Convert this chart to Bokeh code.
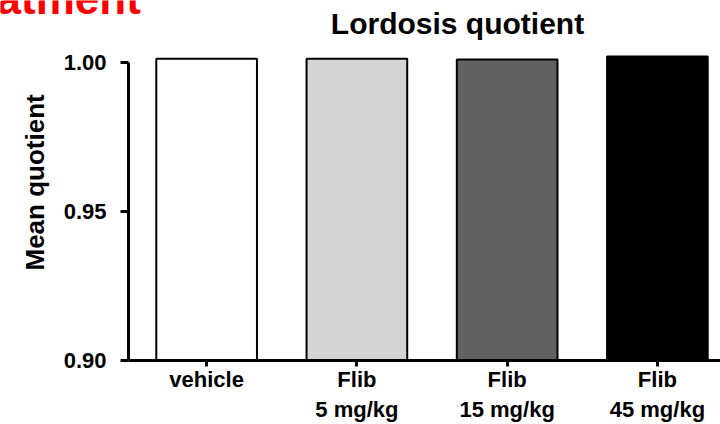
from bokeh.plotting import figure
from bokeh.layouts import column
from bokeh.models import Range1d, FixedTicker, Label, Title, ColumnDataSource
from bokeh.embed import file_html
from bokeh.resources import INLINE

# ---- data ----
categories = ["vehicle", "Flib\n5 mg/kg", "Flib\n15 mg/kg", "Flib\n45 mg/kg"]
values = [1.0013, 1.0013, 1.0010, 1.0020]
bar_colors = ["#FFFFFF", "#D4D4D4", "#616161", "#000000"]
y_ticks = [0.90, 0.95, 1.00]
y_tick_labels = ["0.90", "0.95", "1.00"]
title_text = "Lordosis quotient"
y_label = "Mean quotient"
slide_heading = "Treatment"

FONT = "Liberation Sans"
W = 720
TOP_H = 45
MAIN_H = 379

# ---- header strip (slide heading fragment + chart title) ----
head = figure(width=W, height=TOP_H, output_backend="svg", toolbar_location=None,
              x_axis_location=None, y_axis_location=None,
              x_range=Range1d(0, 1), y_range=Range1d(0, 1),
              min_border=0, frame_align=False)
head.outline_line_color = None
head.grid.visible = False
head.background_fill_color = "white"
head.border_fill_color = "white"
head.add_layout(Label(x=-70, y=47, x_units="screen", y_units="screen",
                      text=slide_heading, text_font=FONT, text_font_style="bold",
                      text_font_size="44px", text_align="left",
                      text_baseline="alphabetic", text_color="#FF0000"))
head.add_layout(Label(x=457, y=22, x_units="screen", y_units="screen",
                      text=title_text, text_font=FONT, text_font_style="bold",
                      text_font_size="30px", text_align="center",
                      text_baseline="alphabetic", text_color="black"))

# ---- main chart ----
xs = list(range(len(categories)))
src = ColumnDataSource(dict(x=xs, top=values, color=bar_colors))

p = figure(width=W, height=MAIN_H, output_backend="svg", toolbar_location=None,
           x_range=Range1d(-0.52, 3.42), y_range=Range1d(0.9, 1.00303),
           min_border_left=128, min_border_right=0, min_border_top=8,
           min_border_bottom=0, frame_align=False)
p.outline_line_color = None
p.grid.visible = False
p.background_fill_color = "white"
p.border_fill_color = "white"

p.vbar(x="x", top="top", bottom=0.9, width=0.67, source=src,
       fill_color="color", line_color="black", line_width=2)

# x axis
xa = p.xaxis[0]
xa.ticker = FixedTicker(ticks=xs)
xa.major_label_overrides = {i: c for i, c in enumerate(categories)}
xa.axis_line_width = 3
xa.axis_line_color = "black"
xa.major_tick_line_width = 3
xa.major_tick_out = 6
xa.major_tick_in = 0
xa.minor_tick_line_color = None
xa.major_label_text_font = FONT
xa.major_label_text_font_style = "bold"
xa.major_label_text_font_size = "22px"
xa.major_label_text_color = "black"
xa.major_label_standoff = 0

# y axis
ya = p.yaxis[0]
ya.ticker = FixedTicker(ticks=y_ticks)
ya.major_label_overrides = {t: l for t, l in zip(y_ticks, y_tick_labels)}
ya.bounds = (0.9, 1.0)
ya.axis_line_width = 3
ya.axis_line_color = "black"
ya.major_tick_line_width = 3
ya.major_tick_out = 8
ya.major_tick_in = 0
ya.minor_tick_line_color = None
ya.major_label_text_font = FONT
ya.major_label_text_font_style = "bold"
ya.major_label_text_font_size = "22px"
ya.major_label_text_color = "black"
ya.major_label_standoff = 14

# y axis title (left panel, shifted up like the original)
p.add_layout(Title(text=y_label, align="left", offset=90, standoff=21,
                   text_font=FONT, text_font_style="bold",
                   text_font_size="26px", text_color="black"), "left")

layout = column(head, p, spacing=0)
open("out.html", "w").write(file_html(layout, INLINE))
